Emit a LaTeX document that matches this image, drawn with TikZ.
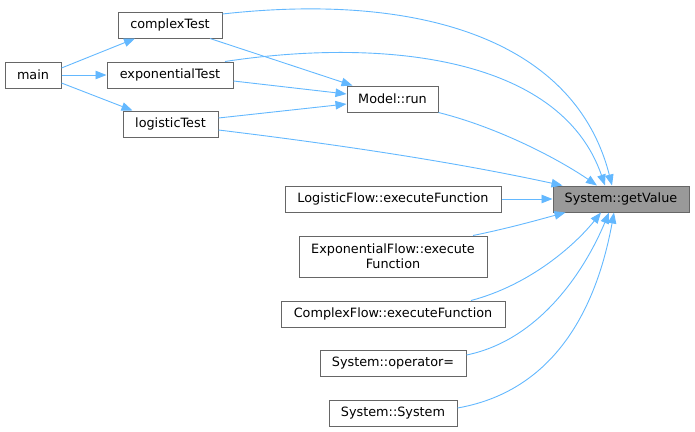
\documentclass[tikz,border=0pt]{standalone}
\usepackage{fontspec}
\setmainfont{DejaVu Sans}
\usetikzlibrary{arrows.meta}
\definecolor{edgeblue}{HTML}{63B8FF}
\definecolor{boxborder}{HTML}{666666}
\definecolor{hlfill}{HTML}{999999}
\tikzset{
  fn/.style={draw=boxborder, fill=white, line width=1pt, minimum height=26pt, inner sep=0pt,
    font=\fontsize{12.8}{15}\selectfont, align=center},
  hl/.style={fn, fill=hlfill},
  call/.style={draw=edgeblue, line width=0.9pt, -{Triangle[length=11pt,width=8.5pt]}}
}
\begin{document}
\begin{tikzpicture}[x=1pt,y=-1pt]
\useasboundingbox (0,0) rectangle (695,431);
\node[fn, minimum width=56pt] (main) at (33,75) {main};
\node[fn, minimum width=104pt] (ct) at (170,25) {complexTest};
\node[fn, minimum width=126pt] (et) at (170,75) {exponentialTest};
\node[fn, minimum width=95pt] (lt) at (170.5,124) {logisticTest};
\node[fn, minimum width=91pt] (run) at (392.5,99) {Model::run};
\node[hl, minimum width=136pt] (gv) at (621,199) {System::getValue};
\node[fn, minimum width=216pt] (lf) at (393,199) {LogisticFlow::executeFunction};
\node[fn, minimum width=188pt, minimum height=41pt] (ef) at (393,256.5) {ExponentialFlow::execute\\Function};
\node[fn, minimum width=224pt] (cf) at (393,314) {ComplexFlow::executeFunction};
\node[fn, minimum width=146pt] (op) at (393,363) {System::operator=};
\node[fn, minimum width=128pt] (ss) at (393,413) {System::System};

% main callers
\draw[call] ([yshift=7pt]main.east) -- ([xshift=-35pt]ct.south);
\draw[call] (main.east) -- (et.west);
\draw[call] ([yshift=-8pt]main.east) -- ([xshift=-38pt]lt.north);
% to Model::run
\draw[call] ([xshift=40pt]ct.south) -- ([xshift=6pt]run.north west);
\draw[call] ([yshift=-6pt]et.east) -- ([yshift=5pt]run.west);
\draw[call] ([yshift=6pt]lt.east) -- ([yshift=-5pt]run.west);
% to getValue from top
\draw[call] ([yshift=11pt]ct.east) .. controls (420,-8) and (575,40) .. ([xshift=-9pt]gv.north);
\draw[call] ([xshift=55pt]et.north) .. controls (380,38) and (560,55) .. ([xshift=-16pt]gv.north);
\draw[call] (run.south east) .. controls (500,128) and (560,160) .. ([xshift=-24pt]gv.north);
\draw[call] ([yshift=-6pt]lt.east) .. controls (400,152) and (500,172) .. ([xshift=10pt]gv.north west);
% side callers
\draw[call] (lf.east) -- (gv.west);
\draw[call] ([xshift=80pt]ef.north) .. controls (510,228) and (545,218) .. ([xshift=13pt]gv.south west);
\draw[call] ([xshift=78pt]cf.north) .. controls (530,285) and (575,245) .. ([xshift=-20pt]gv.south);
\draw[call] ([yshift=8pt]op.east) .. controls (540,340) and (585,270) .. ([xshift=-12pt]gv.south);
\draw[call] ([yshift=5pt]ss.east) .. controls (560,390) and (598,300) .. ([xshift=-7pt]gv.south);
\end{tikzpicture}
\end{document}
